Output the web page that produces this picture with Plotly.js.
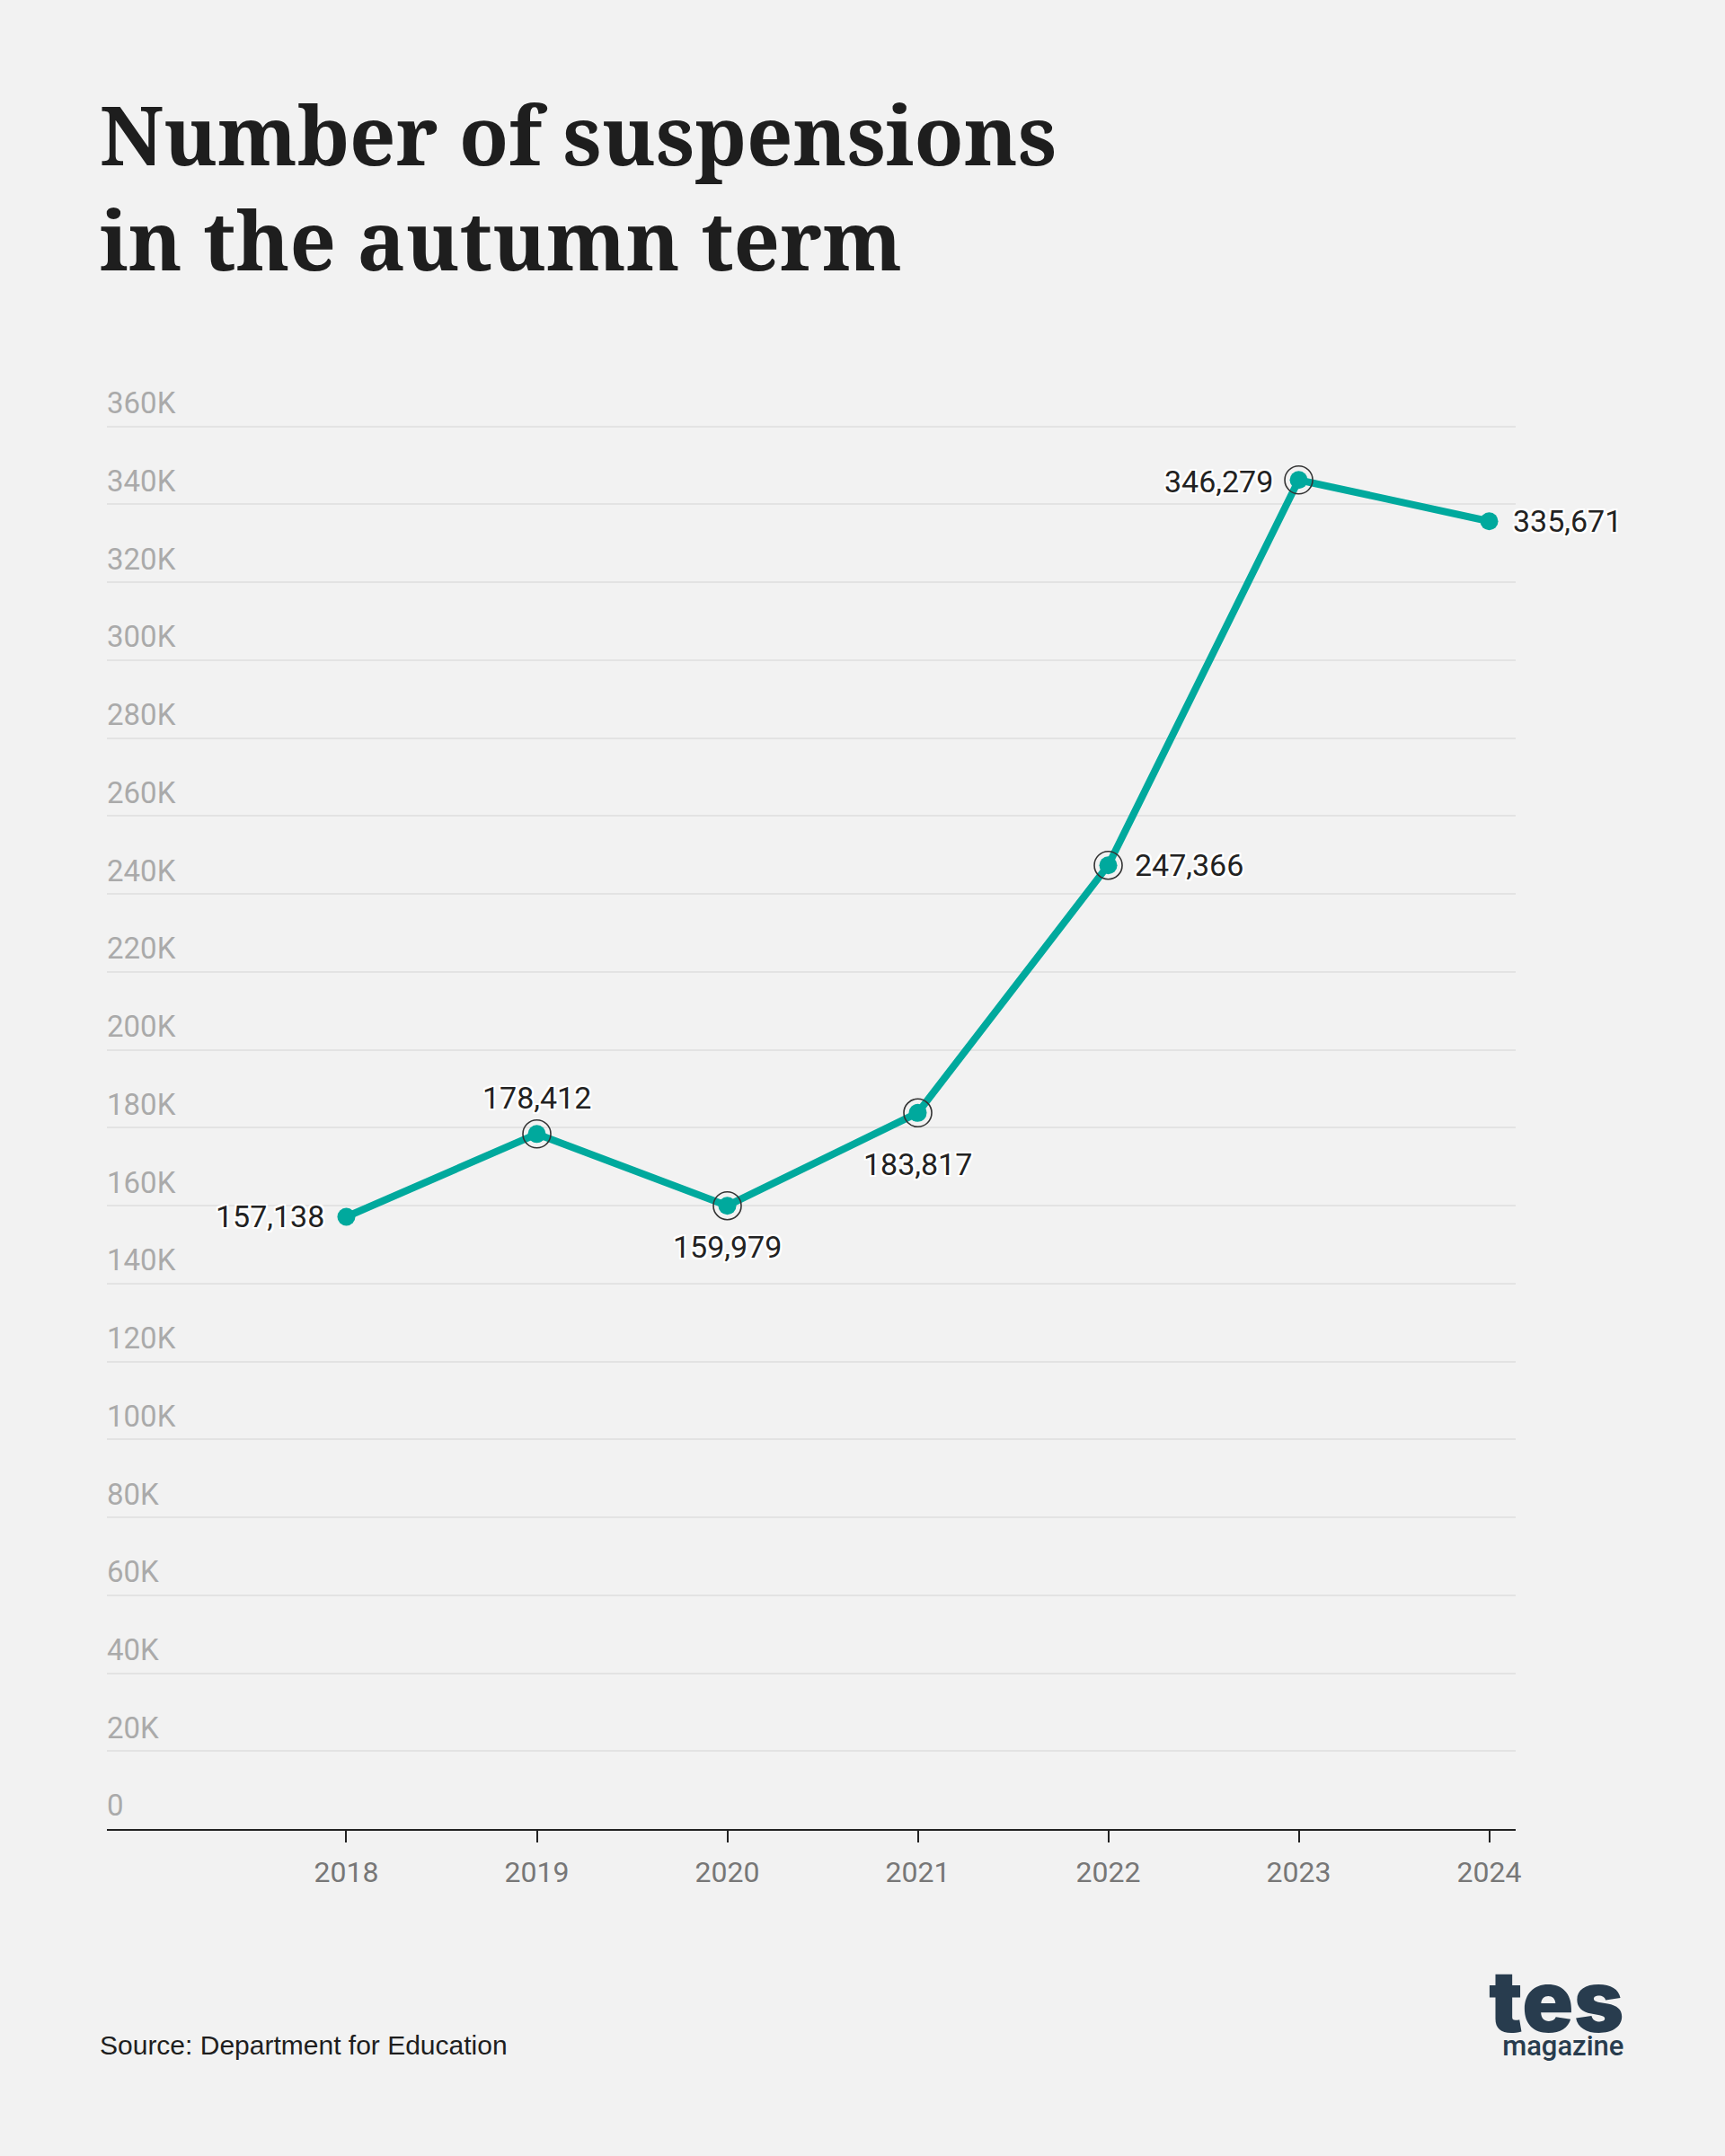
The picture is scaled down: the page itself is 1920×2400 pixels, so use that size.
<!DOCTYPE html>
<html>
<head>
<meta charset="utf-8">
<script src="https://cdn.plot.ly/plotly-3.0.1.min.js"></script>
<style>
  html, body { margin: 0; padding: 0; background: #f2f2f2; }
  #chart { width: 1920px; height: 2400px; }
</style>
</head>
<body>
<div id="chart"></div>
<script>
// ---- Data ----
const years = [2018, 2019, 2020, 2021, 2022, 2023, 2024];
const suspensions = [157138, 178412, 159979, 183817, 247366, 346279, 335671];
const highlightedYears = [2019, 2020, 2021, 2022, 2023];
const yTickValues = [0, 20000, 40000, 60000, 80000, 100000, 120000, 140000, 160000, 180000,
  200000, 220000, 240000, 260000, 280000, 300000, 320000, 340000, 360000];
const yTickLabels = ["0", "20K", "40K", "60K", "80K", "100K", "120K", "140K", "160K", "180K",
  "200K", "220K", "240K", "260K", "280K", "300K", "320K", "340K", "360K"];
const xTickLabels = ["2018", "2019", "2020", "2021", "2022", "2023", "2024"];
const titleText = "Number of suspensions<br>in the autumn term";
const sourceText = "Source: Department for Education";
const logoMain = "tes";
const logoSub = "magazine";

// ---- Styles ----
const teal = "#00a99d";
const navy = "#283c4e";
const halo = "2px 2px 0 #fff, -2px -2px 0 #fff, 2px -2px 0 #fff, -2px 2px 0 #fff, 0 2px 0 #fff, 0 -2px 0 #fff, 2px 0 0 #fff, -2px 0 0 #fff";
// per-point label placement (anchor, pixel shifts)
const labelXAnchor = ["right", "center", "center", "center", "left", "right", "left"];
const labelXShift = [-22, 0, 0, 0, 27, -27, 24];
const labelYShift = [1, 40, -46, -57, 0, -2, 0];

const fmt = v => v.toLocaleString("en-GB");

const hlX = years.filter(y => highlightedYears.includes(y));
const hlY = suspensions.filter((v, i) => highlightedYears.includes(years[i]));

const traces = [
  {
    x: years, y: suspensions, type: "scatter", mode: "lines+markers",
    line: { color: teal, width: 8 },
    marker: { color: teal, size: 20 },
    cliponaxis: false,
    hoverinfo: "skip"
  },
  {
    x: hlX, y: hlY, type: "scatter", mode: "markers",
    marker: { symbol: "circle-open", size: 31, color: "#333333", line: { width: 1.6, color: "#333333" } },
    cliponaxis: false,
    hoverinfo: "skip"
  }
];

const valueLabels = years.map((yr, i) => ({
  x: yr, y: suspensions[i], xref: "x", yref: "y",
  text: fmt(suspensions[i]), showarrow: false,
  xanchor: labelXAnchor[i], yanchor: "middle",
  xshift: labelXShift[i], yshift: labelYShift[i],
  font: { family: "Roboto, sans-serif", size: 34, color: "#222222", shadow: halo }
}));

const PH = 1648; // plot height in px (range 0..380K, 360K gridline at y=475)
const layout = {
  width: 1920, height: 2400,
  paper_bgcolor: "#f2f2f2", plot_bgcolor: "#f2f2f2",
  showlegend: false,
  margin: { l: 119, r: 233, t: 2036 - PH, b: 364 },
  title: {
    text: titleText,
    font: { family: "Noto Serif, 'DejaVu Serif', serif", size: 90, weight: 700, color: "#1e1e1e" },
    xref: "container", yref: "container",
    x: 111 / 1920, xanchor: "left",
    y: 1 - 184 / 2400, yanchor: "top"
  },
  xaxis: {
    range: [2016.743, 2024.139],
    tickvals: years, ticktext: xTickLabels,
    showgrid: false, zeroline: false,
    showline: true, linecolor: "#222222", linewidth: 2,
    ticks: "outside", ticklen: 13, tickwidth: 2, tickcolor: "#222222",
    ticklabelstandoff: 6,
    tickfont: { family: "Roboto, sans-serif", size: 32, color: "#777777" },
    fixedrange: true
  },
  yaxis: {
    range: [0, 380000],
    tickvals: yTickValues, ticktext: yTickLabels,
    ticklabelposition: "inside top",
    ticklabelstandoff: -3,
    ticklabelshift: -3,
    showgrid: true, gridcolor: "#e3e3e3", gridwidth: 2,
    zeroline: false, showline: false, ticks: "",
    tickfont: { family: "Roboto, sans-serif", size: 33, color: "#aaaaaa" },
    fixedrange: true
  },
  annotations: valueLabels.concat([
    {
      text: sourceText, xref: "paper", yref: "paper",
      x: -10 / 1568, y: -(2295 - 2036) / PH, xanchor: "left", yanchor: "bottom",
      showarrow: false, align: "left",
      font: { family: "Arial, 'Liberation Sans', sans-serif", size: 30, color: "#1e1e1e" }
    },
    {
      text: '<span style="font-size:95px;font-weight:900">' + logoMain + '</span><br>' +
            '<span style="font-size:31px;font-weight:500;font-family:Roboto, sans-serif">' + logoSub + '</span>',
      xref: "paper", yref: "paper",
      x: (1809 - 119) / 1568, y: -(2298 - 2036) / PH, xanchor: "right", yanchor: "bottom",
      showarrow: false, align: "right",
      font: { family: "Inter, Lato, sans-serif", size: 20, color: navy }
    }
  ])
};

Plotly.newPlot("chart", traces, layout, { staticPlot: true, displayModeBar: false });
</script>
</body>
</html>
